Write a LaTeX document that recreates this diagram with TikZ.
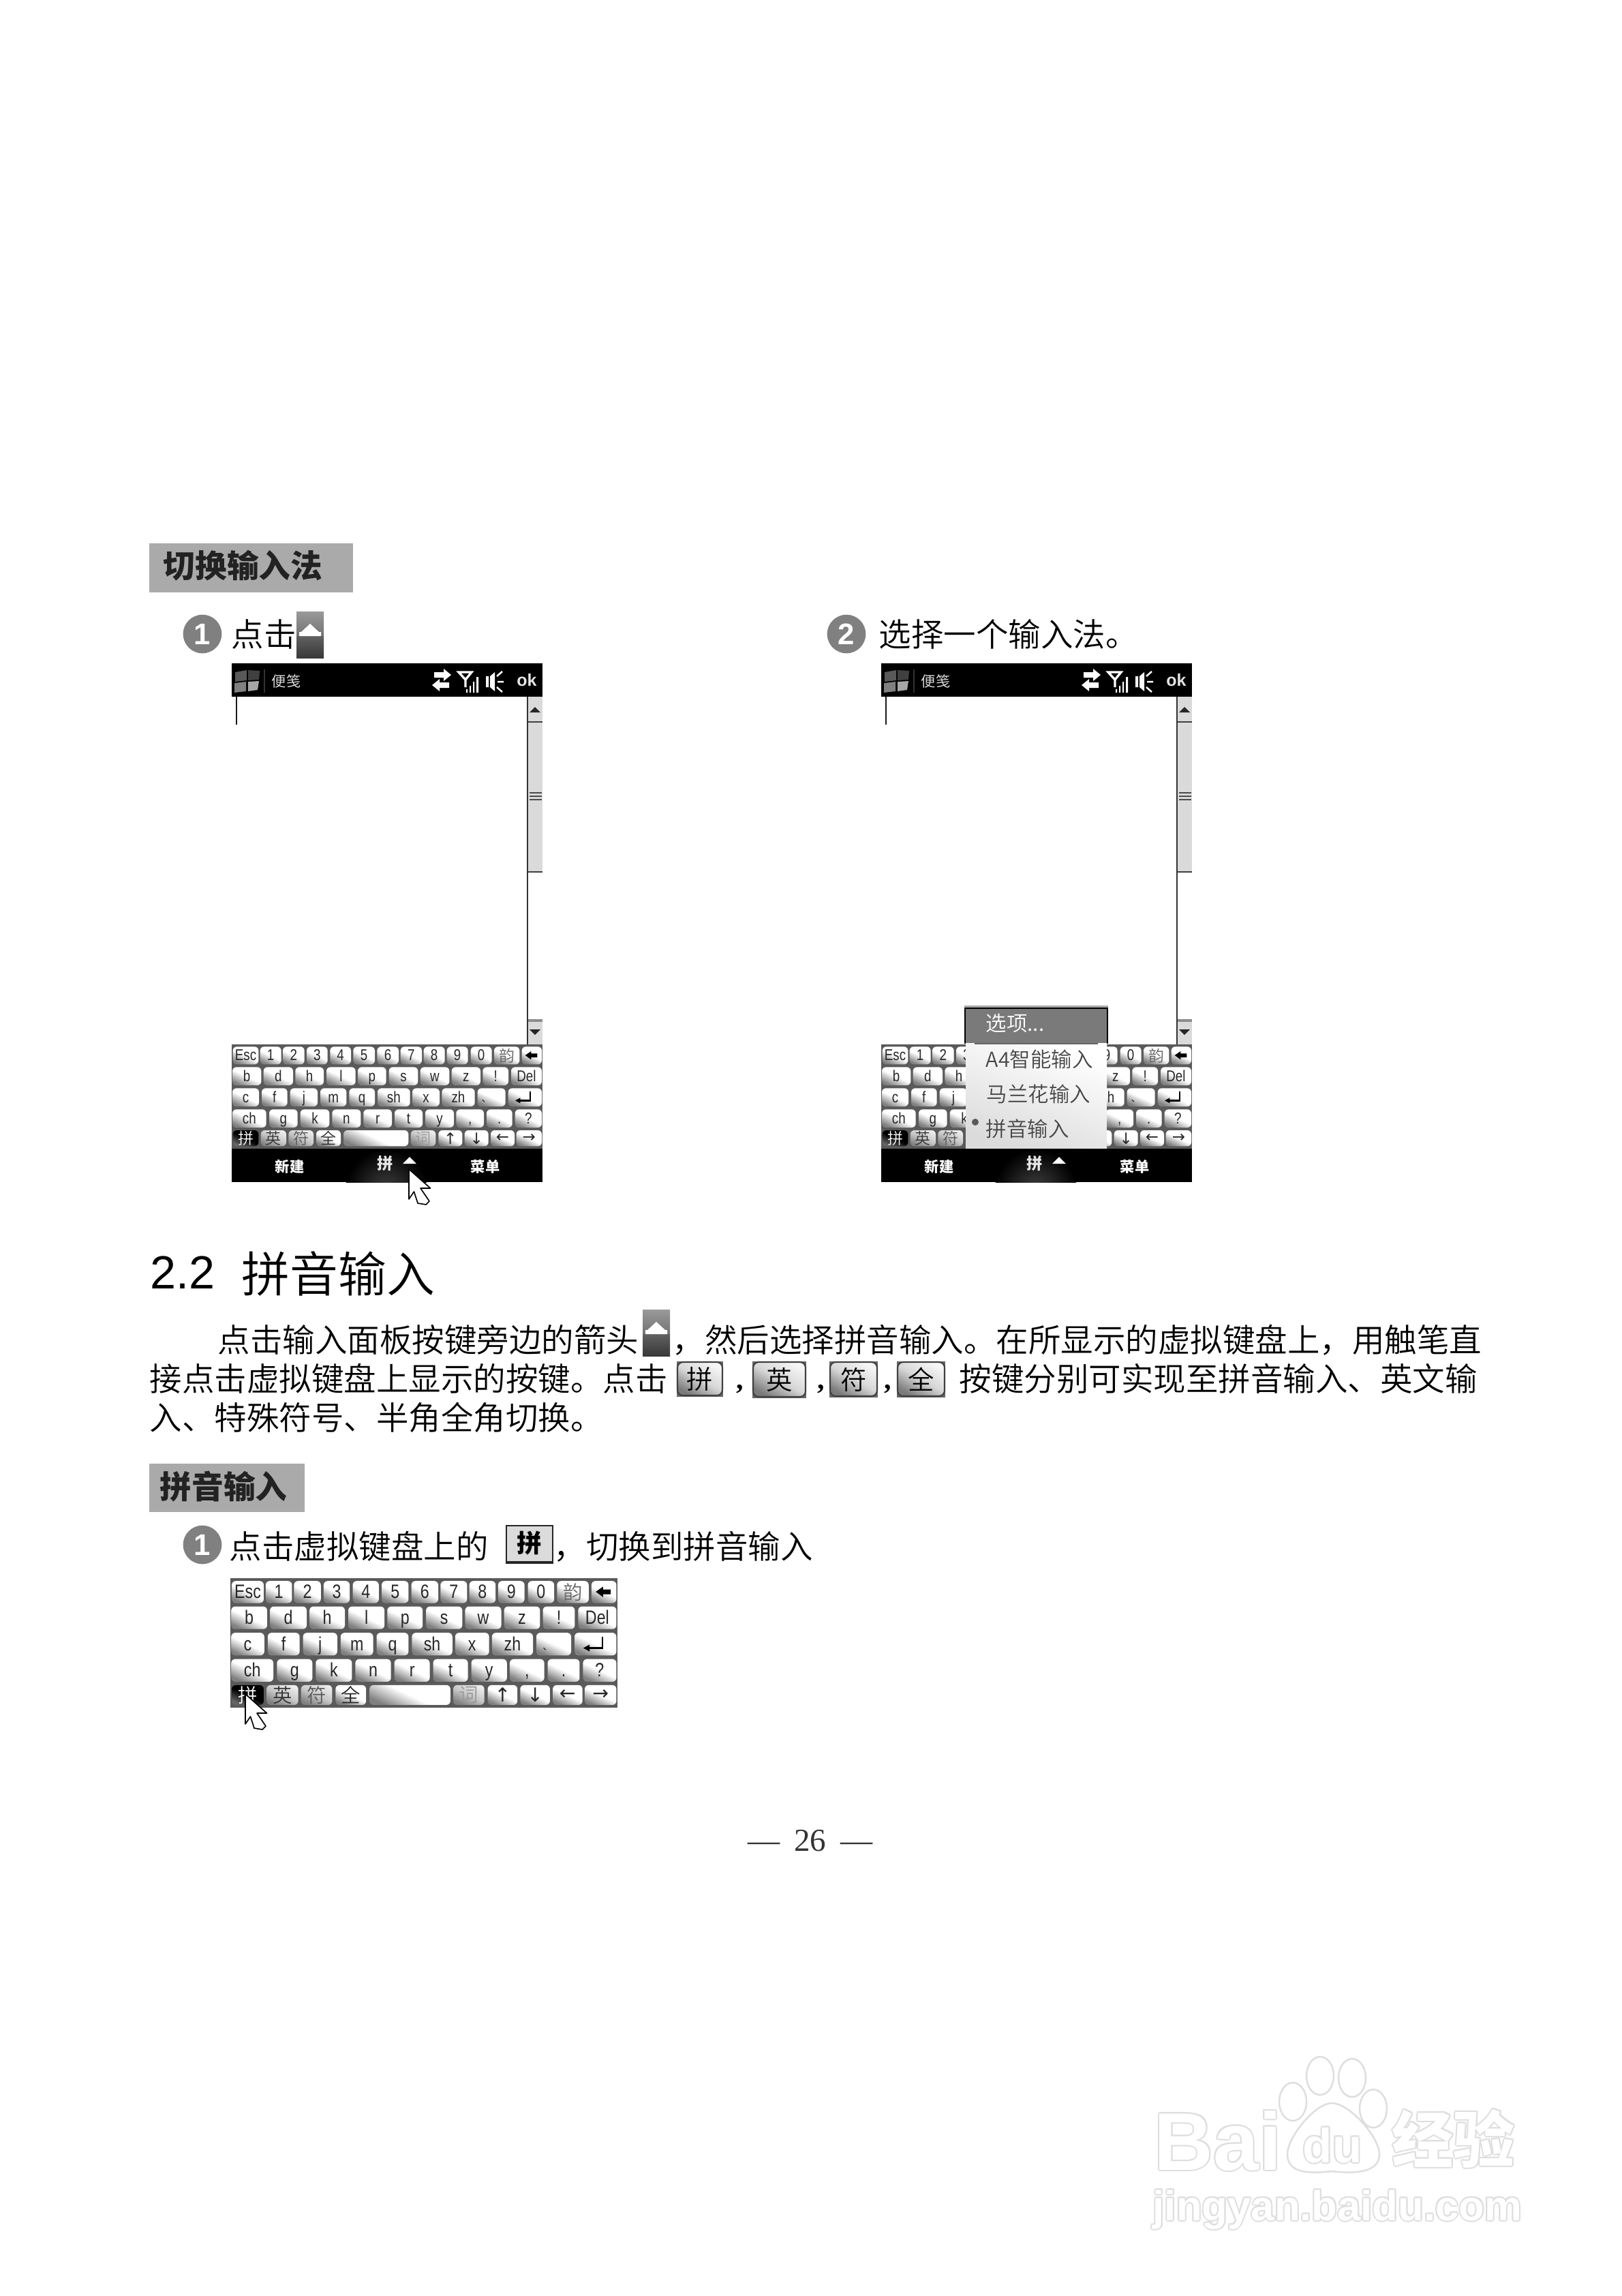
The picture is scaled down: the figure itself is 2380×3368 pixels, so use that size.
\documentclass[tikz,border=0pt]{standalone}
\usepackage{fontspec}
\setmainfont{Liberation Sans}
\newfontfamily\keyF[FakeStretch=0.82]{Liberation Sans}
\newfontfamily\cjkr{Noto Sans CJK SC}
\newfontfamily\cjkl{Noto Sans CJK SC DemiLight}
\newfontfamily\serifF{Liberation Serif}
\newfontfamily\djv{DejaVu Sans}
\newcommand\fs[1]{\fontsize{#1}{#1}\selectfont}
\definecolor{headbg}{HTML}{AAAAAA}
\definecolor{headtx}{HTML}{222222}
\definecolor{stepc}{HTML}{808080}
\definecolor{kbbg}{HTML}{5A5A5A}
\definecolor{keytx}{HTML}{262626}
\definecolor{sbar}{HTML}{DADADA}
\definecolor{wmline}{HTML}{DEDEDE}
\tikzset{
  x=0.24pt,y=-0.24pt,
  txt/.style={anchor=base west,inner sep=0pt,text=black},
  body/.style={txt,font=\cjkl\fs{11.4}},
  headbox/.style={fill=headbg,draw=none},
  headtext/.style={anchor=base west,inner sep=0pt,text=headtx,font=\cjkr\bfseries\fs{11.2}},
  stepcirc/.style={circle,fill=stepc,inner sep=0pt,minimum size=13.6pt,text=white,font=\bfseries\fs{10.5}},
  keyw/.style={rounded corners=1.4pt,left color=white,right color=black!50,middle color=white,shading angle=-25},
  keyg/.style={rounded corners=1.4pt,left color=black!8,right color=black!50,middle color=black!22,shading angle=-25},
  keyd/.style={rounded corners=1.4pt,left color=black,right color=black!60,middle color=black,shading angle=-25},
  keytext/.style={inner sep=0pt,text=keytx,anchor=base},
  keymid/.style={inner sep=0pt,text=keytx,anchor=center},
  bartext/.style={inner sep=0pt,text=white,font=\cjkr\bfseries\fs{5.1}},
  inkey/.style={rounded corners=2pt,left color=black!4,right color=black!52,middle color=black!16,shading angle=-30,draw=black!75,line width=.5pt},
  intext/.style={inner sep=0pt,text=black,font=\cjkl\fs{9.2}},
  menutext/.style={anchor=base west,inner sep=0pt,text=black!72,font=\cjkl\fs{7.3}},
  cursor/.style={fill=white,draw=black,line width=.4pt,line join=round},
}
\newcount\kctr
\newif\ifhidekeys
% labels whose centre lies wholly under the popup menu are not set
\newcommand\klabelset[3]{%
  \pgfmathtruncatemacro\kcx{(#1+#2)/2}%
  \ifhidekeys
    \ifnum\kcx>470 \ifnum\kcx<1040 \def\klbl{}\else\def\klbl{#3}\fi\else\def\klbl{#3}\fi
  \else\def\klbl{#3}\fi}
\newcommand\kk[4][keyw]{\global\advance\kctr by 1
  \path[#1] (#2,\ya) rectangle (#3,\yb);
  \klabelset{#2}{#3}{#4}%
  \ifx\klbl\empty\else\node[keytext] (key\the\kctr) at ({(#2+#3)/2},{\yb-17}) {\kfont\keyF \klbl};\fi}
\newcommand\kc[4][keyw]{\global\advance\kctr by 1
  \path[#1] (#2,\ya) rectangle (#3,\yb);
  \klabelset{#2}{#3}{#4}%
  \ifx\klbl\empty\else\node[keymid] (key\the\kctr) at ({(#2+#3)/2},{(\ya+\yb)/2}) {\kfont \klbl};\fi}
\newcommand\keyboard[4]{%
\begin{scope}[shift={(#1,#2)},x={#3*0.08pt},y={-#3*0.08pt},shift={(-60,-157)}]
  \def\kfont{\fs{#4}}
  \fill[kbbg] (60,157) rectangle (1428,615);
  \def\ya{167}\def\yb{245}
  \kk{65}{178}{Esc}\kk{185}{278}{1}\kk{285}{380}{2}\kk{390}{482}{3}\kk{493}{585}{4}
  \kk{595}{690}{5}\kk{700}{795}{6}\kk{803}{897}{7}\kk{905}{998}{8}\kk{1007}{1100}{9}
  \kk{1112}{1205}{0}\kc{1215}{1327}{\cjkl\color{black!60}韵}\kc{1337}{1425}{}
  \fill[black] (1352,205)--(1378,187)--(1378,197)--(1405,197)--(1405,214)--(1378,214)--(1378,224)--cycle;
  \def\ya{257}\def\yb{337}
  \kk{63}{190}{b}\kk{200}{330}{d}\kk{340}{465}{h}\kk{477}{605}{l}\kk{615}{740}{p}
  \kk{752}{880}{s}\kk{890}{1018}{w}\kk{1028}{1155}{z}\kk{1165}{1278}{!}\kk{1290}{1425}{Del}
  \def\ya{350}\def\yb{430}
  \kk{63}{180}{c}\kk{192}{305}{f}\kk{317}{438}{j}\kk{450}{565}{m}\kk{577}{690}{q}
  \kk{702}{845}{sh}\kk{855}{975}{x}\kk{985}{1130}{zh}\kk{1142}{1265}{}\kk{1277}{1425}{}
  \node[keymid] (dunhao) at (1182,408) {\fs{3.5}\cjkr 、};
  \draw[black,line width=.55pt] (1375,364)--(1375,404)--(1322,404);
  \fill[black] (1308,404)--(1330,392)--(1330,416)--cycle;
  \def\ya{443}\def\yb{523}
  \kk{63}{212}{ch}\kk{225}{350}{g}\kk{362}{490}{k}\kk{502}{628}{n}\kk{640}{765}{r}
  \kk{777}{900}{t}\kk{912}{1038}{y}\kk{1048}{1170}{,}\kk{1182}{1295}{.}\kk{1307}{1425}{?}
  \def\ya{535}\def\yb{605}
  \kc[keyd]{65}{178}{\cjkl\color{white}拼}\kc[keyg]{188}{300}{\cjkl\color{black!80}英}
  \kc[keyg]{310}{420}{\cjkl\color{black!65}符}\kc{432}{540}{\cjkl 全}
  \kc{552}{838}{}\kc[keyg]{848}{958}{\cjkl\color{black!40}词}
  \kc{970}{1075}{\djv ↑}\kc{1085}{1190}{\djv ↓}\kc{1200}{1305}{\djv ←}\kc{1313}{1425}{\djv →}
\end{scope}}
\newcommand\cursorat[2]{%
\begin{scope}[shift={(#1,#2)}]
  \path[cursor] (0,0)--(31.5,28)--(17,28)--(30,47)--(25,52)--(13,50)--(7.5,33)--(0,44)--cycle;
\end{scope}}
\newcommand\upicon[2]{%
\begin{scope}[shift={(#1,#2)}]
  \shade[top color=black!40,bottom color=black!55] (0,0) rectangle (40,36);
  \shade[top color=black!62,bottom color=black!78] (0,36) rectangle (40,68);
  \fill[white] (20,18)--(33,30)--(36,30)--(36,36)--(4,36)--(4,30)--(7,30)--cycle;
\end{scope}}
\newcommand\inbox[5]{%
  \fill[black!60] (#1,#2) rectangle (#3,#4);
  \path[inkey] (#1+1,#2+1) rectangle (#3-1,#4-2);
  \node[intext] at ({(#1+#3)/2},{(#2+#4)/2}) {#5};}
\newcommand\wmtext[4]{% x, baseline, font, text
  \foreach \dx/\dy in {-2/0,2/0,0/-2,0/2,-1.5/-1.5,1.5/1.5,-1.5/1.5,1.5/-1.5}
    \node[anchor=base west,inner sep=0pt,text=wmline,font=#3] at (#1+\dx,#2+\dy) {#4};
  \node[anchor=base west,inner sep=0pt,text=white,font=#3] at (#1,#2) {#4};}
\newcommand\phone{%
  % title bar
  \fill[black] (340,973) rectangle (796,1022);
  \fill[black!65] (345,986)--(362,983)--(362,998)--(345,1000)--cycle;
  \fill[black!75] (364,983)--(381,984)--(380,997)--(364,998)--cycle;
  \fill[black!50] (344,1002)--(361,1000)--(361,1014)--(344,1016)--cycle;
  \fill[black!35] (364,1000)--(380,999)--(378,1012)--(364,1014)--cycle;
  \draw[black!80,line width=.4pt] (388,982)--(388,1016);
  \node[bartext,anchor=west,font=\cjkr\fs{5.1},text=black!15] at (398,999) {便笺};
  \fill[white] (637,986)--(651,986)--(651,981)--(662,990)--(651,999)--(651,994)--(637,994)--cycle;
  \fill[white] (659,1001)--(645,1001)--(645,996)--(634,1005)--(645,1014)--(645,1009)--(659,1009)--cycle;
  \draw[white,line width=.8pt] (673,986)--(692,986)--(683,997)--cycle (683,997)--(683,1008);
  \fill[white] (684,1011) rectangle (686,1016) (689,1006) rectangle (691,1016)
               (694,1000) rectangle (696,1016) (699,993) rectangle (702,1016);
  \fill[white] (713,992) rectangle (717,1008) (719,992)--(726,986)--(726,1014)--(719,1008)--cycle;
  \draw[white,line width=.6pt] (729,992)--(737,985) (730,1000)--(739,1000) (729,1008)--(737,1015);
  \node[bartext,font=\bfseries\fs{6},text=black!10] at (773,998) {ok};
  % caret and scrollbar
  \draw[black!90,line width=.55pt] (347,1022)--(347,1063);
  \fill[sbar] (775,1022) rectangle (796,1279);
  \fill[sbar] (775,1497) rectangle (796,1532);
  \draw[black!80,line width=.55pt] (774,1022)--(774,1532);
  \draw[black!75,line width=.5pt] (775,1059)--(796,1059) (775,1279)--(796,1279);
  \draw[black!45,line width=.9pt] (775,1497)--(796,1497);
  \draw[black!70,line width=.4pt] (777,1163)--(795,1163) (777,1168)--(795,1168) (777,1173)--(795,1173);
  \fill[black!85] (785,1037)--(793,1045)--(777,1045)--cycle;
  \fill[black!85] (785,1518)--(793,1510)--(777,1510)--cycle;
  % keyboard
  \keyboard{340}{1532}{1}{5.5}
  % bottom bar
  \fill[black] (340,1685) rectangle (796,1734);
  \begin{scope}
    \clip (500,1685) rectangle (635,1734);
    \shade[inner color=black!75,outer color=black] (567,1745) ellipse (60 and 60);
  \end{scope}
  \node[bartext] at (425,1711) {新建};
  \node[bartext,font=\cjkr\bfseries\fs{5.6},text=black!10] at (565,1707) {拼};
  \fill[white] (601,1697)--(611,1707)--(591,1707)--cycle;
  \node[bartext] at (712,1711) {菜单};
}
\begin{document}
\begin{tikzpicture}
\useasboundingbox (0,0) rectangle (2380,3368);
\fill[white] (0,0) rectangle (2380,3368);

% heading 1
\path[headbox] (219,797) rectangle (518,869);
\node[headtext] (h1) at (239,847) {切换输入法};
% step 1
\node[stepcirc] (s1) at (297,930) {1};
\node[body] (s1t) at (339,948) {点击};
\upicon{435}{897}
% step 2
\node[stepcirc] (s2) at (1242,930) {2};
\node[body] (s2t) at (1289,948) {选择一个输入法。};

% phones
\phone
\cursorat{600}{1715}
\begin{scope}[shift={(953,0)}]
  \hidekeystrue
  \phone
\end{scope}

% popup menu on phone 2
\fill[black!35] (1415,1475) rectangle (1626,1479);
\fill[black!52] (1416,1478) rectangle (1625,1531);
\draw[black,line width=.55pt] (1416,1531)--(1416,1479)--(1625,1479)--(1625,1531);
\shade[left color=white,right color=black!14,shading angle=-20] (1417,1530) rectangle (1624,1684);
\draw[black!60,line width=.6pt] (1430,1531)--(1611,1531);
\node[menutext,text=white] (m0) at (1446,1512) {选项...};
\node[menutext] (m1) at (1446,1565) {A4智能输入};
\node[menutext] (m2) at (1447,1616) {马兰花输入};
\node[menutext] (m3) at (1446,1667) {拼音输入};
\fill[black!65] (1431,1646) circle (5);

% section title
\node[txt,font=\fs{16.4}] (t22) at (220,1890) {2.2};
\node[txt,font=\cjkl\fs{17}] (t22b) at (354,1895) {拼音输入};

% paragraph
\node[body] (p1) at (319,1983) {点击输入面板按键旁边的箭头};
\upicon{943}{1921}
\node[body] (p1b) at (986,1983) {，然后选择拼音输入。在所显示的虚拟键盘上，用触笔直};
\node[body] (p2) at (219,2040) {接点击虚拟键盘上显示的按键。点击};
\inbox{993}{1997}{1061}{2049}{拼}
\node[txt,font=\serifF\bfseries\fs{10}] (c1) at (1080,2037) {,};
\inbox{1104}{1997}{1183}{2051}{英}
\node[txt,font=\serifF\bfseries\fs{10}] (c2) at (1199,2037) {,};
\inbox{1217}{1997}{1288}{2050}{符}
\node[txt,font=\serifF\bfseries\fs{10}] (c3) at (1297,2037) {,};
\inbox{1316}{1997}{1387}{2050}{全}
\node[body] (p2b) at (1407,2040) {按键分别可实现至拼音输入、英文输};
\node[body] (p3) at (219,2097) {入、特殊符号、半角全角切换。};

% heading 2
\path[headbox] (219,2147) rectangle (447,2218);
\node[headtext] (h2) at (234,2198) {拼音输入};
\node[stepcirc] (s3) at (297,2266) {1};
\node[body] (s3t) at (336,2286) {点击虚拟键盘上的};
\fill[black!85] (742,2237) rectangle (812,2294);
\fill[black!14] (744,2239) rectangle (810,2290);
\node[inner sep=0pt,font=\cjkr\bfseries\fs{8.8}] (s3k) at (777,2264) {拼};
\node[body] (s3u) at (812,2286) {，切换到拼音输入};

% keyboard 3
\keyboard{338}{2315}{1.245}{6.8}
\cursorat{360}{2485}

% page number
\node[inner sep=0pt,font=\serifF\fs{11.3},text=black!80] (pg) at (1189,2700) {—\hspace{5pt}26\hspace{5pt}—};

% watermark
\wmtext{1693}{3183}{\bfseries\fs{28.8}}{Bai}
\foreach \cx/\cy in {1897/3083,1937/3045,1984/3048,2015/3093}
  \draw[wmline,line width=.6pt,fill=white] (\cx,\cy) ellipse (20 and 28);
\draw[wmline,line width=.6pt,fill=white] (1954,3085)
  .. controls (1980,3085) and (2024,3135) .. (2024,3160)
  .. controls (2024,3190) and (1980,3188) .. (1954,3185)
  .. controls (1925,3188) and (1889,3190) .. (1889,3160)
  .. controls (1889,3135) and (1930,3085) .. (1954,3085) -- cycle;
\wmtext{1911}{3172}{\bfseries\fs{17}}{du}
\wmtext{2042}{3172}{\cjkr\bfseries\fs{21.6}}{经验}
\wmtext{1691}{3257}{\bfseries\fs{14.8}}{jingyan.baidu.com}
\end{tikzpicture}
\end{document}
